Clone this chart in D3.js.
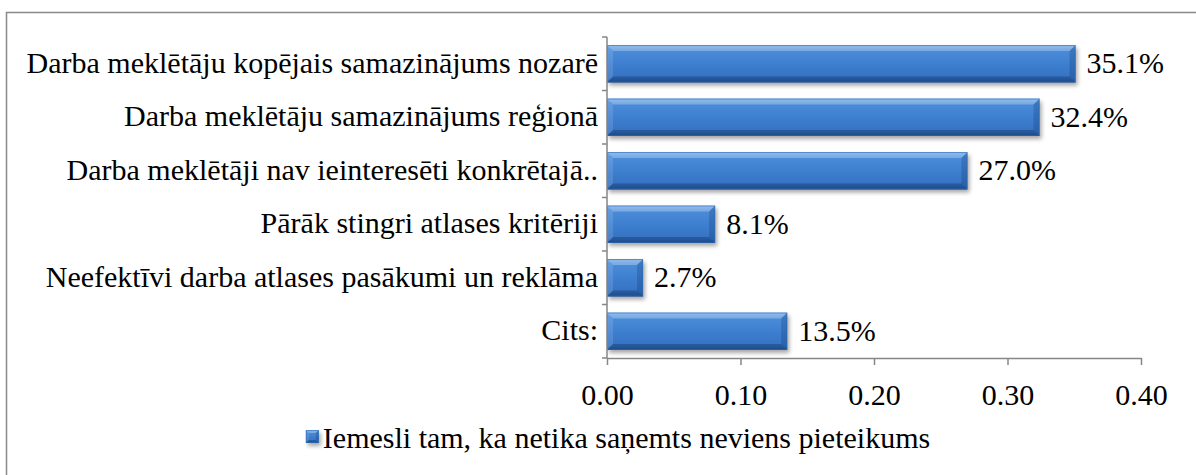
<!DOCTYPE html>
<html>
<head>
<meta charset="utf-8">
<script src="https://cdn.jsdelivr.net/npm/d3@7/dist/d3.min.js"></script>
<style>
  html, body { margin: 0; padding: 0; background: #ffffff; }
  svg { display: block; }
</style>
</head>
<body>
<svg id="chart" width="1196" height="475"></svg>
<script>
// ---- data ----
const categories = [
  "Darba meklētāju kopējais samazinājums nozarē",
  "Darba meklētāju samazinājums reģionā",
  "Darba meklētāji nav ieinteresēti konkrētajā..",
  "Pārāk stingri atlases kritēriji",
  "Neefektīvi darba atlases pasākumi un reklāma",
  "Cits:"
];
const values = [0.351, 0.324, 0.270, 0.081, 0.027, 0.135];
const valueLabels = ["35.1%", "32.4%", "27.0%", "8.1%", "2.7%", "13.5%"];
const xTicks = [0, 0.1, 0.2, 0.3, 0.4];
const seriesName = "Iemesli tam, ka netika saņemts neviens pieteikums";

// ---- layout ----
const W = 1196, H = 475;
const FS = 30;
const FONT = "'Liberation Serif', 'Times New Roman', serif";
const plot = { left: 607, right: 1141, top: 37, bottom: 358 };

const svg = d3.select("#chart");
const defs = svg.append("defs");

const grad = defs.append("linearGradient").attr("id", "barGrad")
  .attr("x1", 0).attr("y1", 0).attr("x2", 0).attr("y2", 1);
[["0%", "#6aa6ea"], ["12%", "#4b8cda"], ["50%", "#3e7fcf"], ["88%", "#3672c2"], ["100%", "#2b5c9f"]]
  .forEach(([o, c]) => grad.append("stop").attr("offset", o).attr("stop-color", c));

const blur = defs.append("filter").attr("id", "shadow")
  .attr("x", "-10%").attr("y", "-30%").attr("width", "130%").attr("height", "170%");
blur.append("feGaussianBlur").attr("stdDeviation", 2);

function styleText(sel) {
  return sel.style("font-family", FONT).style("font-size", FS + "px").style("fill", "#000");
}

// chart border
svg.append("rect")
  .attr("x", 6.5).attr("y", 12.5)
  .attr("width", W + 20).attr("height", H + 20)
  .attr("fill", "none").attr("stroke", "#898989").attr("stroke-width", 1.5);

// scales
const x = d3.scaleLinear().domain([0, 0.4]).range([plot.left, plot.right]);
const y = d3.scaleBand().domain(categories).range([plot.top, plot.bottom])
  .paddingInner(0.3).paddingOuter(0.15);

function bevelBar(g, x0, y0, w, h, b) {
  b = Math.min(b, w / 2, h / 2);
  const x1 = x0 + w, y1 = y0 + h;
  g.append("rect").attr("x", x0 + 2).attr("y", y0 + 3).attr("width", w).attr("height", h)
    .attr("fill", "#000").attr("opacity", 0.35).attr("filter", "url(#shadow)");
  g.append("rect").attr("x", x0).attr("y", y0).attr("width", w).attr("height", h)
    .attr("fill", "url(#barGrad)");
  const poly = (pts, fill, op) => g.append("polygon")
    .attr("points", pts.map(p => p.join(",")).join(" "))
    .attr("fill", fill).attr("opacity", op);
  poly([[x0, y0], [x1, y0], [x1 - b, y0 + b], [x0 + b, y0 + b]], "#ffffff", 0.28);
  poly([[x0, y1], [x1, y1], [x1 - b, y1 - b], [x0 + b, y1 - b]], "#0a2a5a", 0.35);
  poly([[x0, y0], [x0 + b, y0 + b], [x0 + b, y1 - b], [x0, y1]], "#ffffff", 0.12);
  poly([[x1, y0], [x1 - b, y0 + b], [x1 - b, y1 - b], [x1, y1]], "#0a2a5a", 0.22);
  g.append("rect").attr("x", x0 + 0.5).attr("y", y0 + 0.5).attr("width", w - 1).attr("height", h - 1)
    .attr("fill", "none").attr("stroke", "#2f6bb5").attr("stroke-width", 1).attr("opacity", 0.6);
}

// bars
const bars = svg.append("g");
categories.forEach((c, i) => {
  bevelBar(bars.append("g"), x(0), y(c), x(values[i]) - x(0), y.bandwidth(), 6);
});

// value labels
svg.append("g").selectAll("text").data(categories).join("text")
  .attr("x", (c, i) => x(values[i]) + 11)
  .attr("y", c => y(c) + y.bandwidth() / 2)
  .attr("dy", "0.32em")
  .call(styleText)
  .text((c, i) => valueLabels[i]);

// x axis
const xAxis = svg.append("g").attr("transform", `translate(0,${plot.bottom})`)
  .call(d3.axisBottom(x).tickValues(xTicks).tickFormat(d3.format(".2f")).tickSize(7).tickPadding(19).tickSizeOuter(0));
xAxis.select(".domain").attr("stroke", "#868686").attr("stroke-width", 1.5);
xAxis.selectAll(".tick line").attr("stroke", "#868686").attr("stroke-width", 1.5);
xAxis.selectAll(".tick text").call(styleText);

// y axis (line + boundary ticks)
const yAxis = svg.append("g");
yAxis.append("line").attr("x1", plot.left).attr("x2", plot.left)
  .attr("y1", plot.top).attr("y2", plot.bottom).attr("stroke", "#868686").attr("stroke-width", 1.5);
const step = y.step();
d3.range(categories.length + 1).forEach(i => {
  const yy = plot.top + i * step;
  yAxis.append("line").attr("x1", plot.left - 5).attr("x2", plot.left)
    .attr("y1", yy).attr("y2", yy).attr("stroke", "#868686").attr("stroke-width", 1.5);
});
yAxis.selectAll("text.cat").data(categories).join("text").attr("class", "cat")
  .attr("x", plot.left - 9)
  .attr("y", c => y(c) + y.bandwidth() / 2)
  .attr("dy", "0.3em")
  .attr("text-anchor", "end")
  .call(styleText)
  .text(c => c);

// legend
const leg = svg.append("g");
const legText = leg.append("text").attr("x", 0).attr("y", 448).call(styleText).text(seriesName);
const tw = legText.node().getComputedTextLength();
const sq = 13, gap = 4;
const total = sq + gap + tw;
const lx = 618 - total / 2;
legText.attr("x", lx + sq + gap);
bevelBar(leg.append("g"), lx, 448 - 18, sq, sq, 3);
</script>
</body>
</html>
